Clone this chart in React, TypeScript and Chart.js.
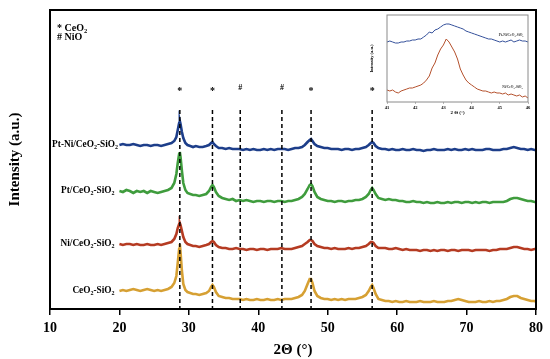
import React, { useEffect, useRef } from "react";
import { Chart, registerables } from "chart.js";
Chart.register(...registerables);

// ---------- main pattern data ----------
const twoTheta = [
  20, 20.5, 21, 21.5, 22, 22.5, 23, 23.5, 24, 24.5, 25, 25.5, 26, 26.5, 27, 27.5,
  27.9, 28.2, 28.4, 28.6, 28.7, 28.8, 29.0, 29.2, 29.5, 29.8,
  30.2, 30.6, 31, 31.5, 32, 32.5,
  32.9, 33.2, 33.4, 33.6, 33.9, 34.3,
  34.8, 35.3, 35.8, 36.3, 36.8, 37.3, 37.8, 38.3, 38.8, 39.3, 39.8, 40.3, 40.8, 41.3, 41.8, 42.3, 42.8, 43.3, 43.8, 44.3, 44.8, 45.3, 45.8, 46.3,
  46.7, 47.1, 47.4, 47.6, 47.8, 48.1, 48.5,
  49, 49.5, 50, 50.5, 51, 51.5, 52, 52.5, 53, 53.5, 54, 54.5, 55, 55.5,
  55.9, 56.2, 56.4, 56.6, 56.9, 57.3,
  57.8, 58.3, 58.8, 59.3, 59.8, 60.3, 60.8, 61.3, 61.8, 62.3, 62.8, 63.3, 63.8, 64.3, 64.8, 65.3, 65.8, 66.3, 66.8, 67.3,
  67.8, 68.3, 68.8, 69.3, 69.8, 70.3, 70.8, 71.3, 71.8, 72.3, 72.8, 73.3, 73.8, 74.3, 74.8, 75.3, 75.8, 76.3, 76.8, 77.3,
  77.8, 78.3, 78.8, 79.3, 79.8, 80,
];

const ptNiCeSi = [
  164, 165, 164, 164, 165, 164, 163, 164, 164, 163, 164, 164, 163, 164, 165, 166,
  168, 172, 179, 186, 188, 185, 177, 171, 166, 164,
  163, 162, 163, 162, 162, 163,
  164, 166, 167, 165, 163, 161,
  161, 160, 161, 160, 160, 160, 159, 160, 159, 160, 159, 159, 160, 159, 160, 159, 160, 160, 160, 159, 160, 161, 161, 162,
  164, 167, 169, 170, 168, 165, 163,
  162, 161, 161, 160, 160, 160, 159, 160, 160, 159, 160, 160, 161, 162,
  164, 166, 167, 166, 163, 161,
  160, 160, 159, 160, 159, 159, 160, 159, 159, 160, 159, 159, 158, 159, 159, 160, 159, 159, 159, 160,
  159, 160, 159, 159, 160, 159, 160, 159, 159, 159, 160, 160, 159, 159, 159, 160, 160, 161, 162, 161,
  160, 160, 159, 160, 159, 159,
];

const ptCeSi = [
  118, 117, 119, 118, 116, 118, 117, 118, 116, 118, 117, 116, 117, 118, 119, 121,
  126, 135, 146, 155, 157, 152, 138, 126, 119, 116,
  115, 114, 114, 113, 114, 115,
  118, 122, 124, 122, 117, 113,
  111, 110, 109, 110, 108, 109, 108, 109, 108, 107, 108, 108, 107, 108, 108, 107, 108, 108, 107, 108, 108, 109, 110, 112,
  115, 120, 124, 125, 123, 117, 112,
  110, 109, 108, 108, 107, 108, 108, 107, 108, 108, 109, 109, 110, 112,
  115, 119, 121, 119, 115, 111,
  110, 109, 110, 109, 109, 108, 108, 107, 107, 108, 107, 107, 106, 107, 106, 106, 107, 106, 106, 107,
  106, 107, 107, 106, 107, 107, 106, 107, 106, 107, 107, 106, 107, 107, 107, 107, 108, 110, 111, 111,
  110, 109, 108, 108, 107, 107,
];

const niCeSi = [
  65, 64, 65, 65, 64, 65, 64, 64, 65, 64, 64, 65, 64, 65, 66, 67,
  70, 75, 81, 85, 86, 84, 78, 72, 67, 65,
  64, 63, 63, 62, 63, 64,
  65, 67, 68, 67, 64, 62,
  61, 61, 60, 60, 61, 60, 60, 59, 60, 60, 59, 60, 60, 59, 60, 60, 60, 61, 60, 60, 60, 61, 62, 63,
  65, 67, 69, 69, 68, 65, 63,
  62, 61, 61, 60, 61, 60, 60, 60, 61, 60, 61, 61, 62, 63,
  65, 67, 67, 66, 63, 61,
  61, 61, 60, 60, 61, 60, 59, 60, 59, 59, 59, 58, 59, 59, 58, 59, 58, 59, 59, 58,
  59, 59, 58, 59, 59, 59, 58, 59, 59, 59, 59, 58, 59, 59, 60, 60, 60, 61, 62, 62,
  61, 60, 60, 59, 60, 60,
];

const ceSi = [
  18, 19, 18, 19, 20, 19, 18, 19, 20, 19, 18, 19, 18, 19, 20, 22,
  26, 33, 46, 60, 65, 57, 38, 25, 19, 17,
  16, 15, 15, 14, 15, 16,
  18, 22, 24, 22, 17, 13,
  12, 11, 11, 10, 10, 10, 9, 10, 9, 9, 10, 9, 9, 10, 9, 9, 10, 9, 10, 10, 10, 11, 12, 14,
  18, 25, 30, 30, 26, 18, 13,
  11, 10, 10, 9, 10, 9, 10, 9, 10, 10, 10, 11, 12, 14,
  18, 22, 24, 21, 15, 10,
  9, 8, 8, 7, 8, 7, 7, 8, 7, 7, 7, 8, 7, 7, 7, 8, 7, 7, 7, 8,
  8, 9, 10, 9, 8, 7, 7, 7, 8, 7, 7, 8, 7, 8, 8, 9, 10, 12, 13, 13,
  11, 10, 9, 8, 8, 7,
];

const seriesNames = ["Pt-Ni/CeO2-SiO2", "Pt/CeO2-SiO2", "Ni/CeO2-SiO2", "CeO2-SiO2"];
const seriesValues = [ptNiCeSi, ptCeSi, niCeSi, ceSi];
const seriesColors = ["#1d3e8a", "#3f9c3d", "#b53b22", "#d6a033"];

const ceo2Peaks = [28.7, 33.4, 47.6, 56.4];
const nioPeaks = [37.4, 43.4];
const legendLines = ["* CeO2", "# NiO"];
const xLabel = "2Θ (°)";
const yLabel = "Intensity (a.u.)";

// ---------- inset data ----------
const insetTheta = [
  41.0, 41.1, 41.2, 41.3, 41.4, 41.5, 41.6, 41.7, 41.8, 41.9,
  42.0, 42.1, 42.2, 42.3, 42.4, 42.5, 42.6, 42.7, 42.8, 42.9,
  43.0, 43.1, 43.2, 43.3, 43.4, 43.5, 43.6, 43.7, 43.8, 43.9,
  44.0, 44.1, 44.2, 44.3, 44.4, 44.5, 44.6, 44.7, 44.8, 44.9,
  45.0, 45.1, 45.2, 45.3, 45.4, 45.5, 45.6, 45.7, 45.8, 45.9,
  46.0,
];
const insetPtNi = [
  60, 61, 60, 59, 59, 60, 60, 61, 61, 62,
  62, 63, 63, 65, 67, 70, 69, 72, 73, 75,
  77, 78, 78, 77, 76, 75, 74, 73, 71, 70,
  69, 68, 67, 66, 65, 64, 63, 63, 62, 61,
  60, 61, 60, 61, 62, 60, 61, 62, 61, 61,
  60,
];
const insetNi = [
  12, 11, 12, 10, 9, 11, 12, 13, 14, 14,
  15, 16, 17, 19, 22, 26, 34, 39, 47, 53,
  57, 63, 60, 55, 50, 43, 33, 27, 22, 19,
  17, 15, 13, 12, 11, 11, 10, 9, 10, 9,
  9, 8, 9, 7, 8, 7, 6, 7, 5, 6,
  4,
];
const insetNames = ["Pt-Ni/CeO2-SiO2", "Ni/CeO2-SiO2"];
const insetColors = ["#34509a", "#b4502c"];

const SERIF = '"Liberation Serif", "Times New Roman", serif';

function drawRich(ctx: CanvasRenderingContext2D, text: string, x: number, y: number, size: number, align: "left" | "right" | "center") {
  const parts = text.match(/\d+|\D+/g) || [];
  const subSize = size * 0.65;
  let w = 0;
  const measured = parts.map((p) => {
    const sub = /^\d+$/.test(p);
    ctx.font = `bold ${sub ? subSize : size}px ${SERIF}`;
    const pw = ctx.measureText(p).width;
    w += pw;
    return { p, sub, pw };
  });
  let cx = align === "right" ? x - w : align === "center" ? x - w / 2 : x;
  ctx.textAlign = "left";
  ctx.textBaseline = "middle";
  for (const m of measured) {
    ctx.font = `bold ${m.sub ? subSize : size}px ${SERIF}`;
    ctx.fillText(m.p, cx, m.sub ? y + size * 0.3 : y);
    cx += m.pw;
  }
}

const mainDecor = {
  id: "mainDecor",
  afterDatasetsDraw(chart: any) {
    const { ctx, chartArea, scales } = chart;
    const x = scales.x;
    const y = scales.y;
    ctx.save();
    // dashed reference lines
    ctx.strokeStyle = "#000";
    ctx.lineWidth = 1.5;
    ctx.setLineDash([4, 3]);
    [...ceo2Peaks, ...nioPeaks].forEach((p) => {
      const px = x.getPixelForValue(p);
      ctx.beginPath();
      ctx.moveTo(px, y.getPixelForValue(199));
      ctx.lineTo(px, chartArea.bottom);
      ctx.stroke();
    });
    ctx.setLineDash([]);
    ctx.fillStyle = "#000";
    ctx.textAlign = "center";
    ctx.textBaseline = "middle";
    ctx.font = `bold 10px ${SERIF}`;
    ceo2Peaks.forEach((p) => ctx.fillText("*", x.getPixelForValue(p), y.getPixelForValue(221) + 3));
    ctx.font = `bold 8px ${SERIF}`;
    nioPeaks.forEach((p) => ctx.fillText("#", x.getPixelForValue(p), y.getPixelForValue(221)));
    // legend
    legendLines.forEach((t, i) => drawRich(ctx, t, chartArea.left + 7, chartArea.top + 18 + i * 9.5, 10, "left"));
    // series labels
    seriesNames.forEach((n, i) => {
      ctx.fillStyle = "#000";
      drawRich(ctx, n, x.getPixelForValue(i === 0 ? 19.8 : 19.3), y.getPixelForValue(seriesValues[i][0]), 9.3, "right");
    });
    // frame
    ctx.lineWidth = 2;
    ctx.strokeStyle = "#000";
    ctx.strokeRect(chartArea.left, chartArea.top, chartArea.right - chartArea.left, chartArea.bottom - chartArea.top);
    ctx.restore();
  },
};

const insetDecor = {
  id: "insetDecor",
  afterDatasetsDraw(chart: any) {
    const { ctx, chartArea, scales } = chart;
    const x = scales.x;
    const y = scales.y;
    ctx.save();
    ctx.fillStyle = "#333";
    drawRich(ctx, insetNames[0], x.getPixelForValue(45.4), y.getPixelForValue(67), 3.5, "center");
    drawRich(ctx, insetNames[1], x.getPixelForValue(45.45), y.getPixelForValue(15), 3.5, "center");
    ctx.lineWidth = 1;
    ctx.strokeStyle = "#8a8a8a";
    ctx.strokeRect(chartArea.left, chartArea.top, chartArea.right - chartArea.left, chartArea.bottom - chartArea.top);
    ctx.restore();
  },
};

export default function App() {
  const mainRef = useRef<HTMLCanvasElement>(null);
  const insetRef = useRef<HTMLCanvasElement>(null);

  useEffect(() => {
    const font = (size: number) => ({ family: SERIF, size, weight: "bold" as const });
    const main = new Chart(mainRef.current!, {
      type: "line",
      data: {
        datasets: seriesValues.map((vals, i) => ({
          label: seriesNames[i],
          data: twoTheta.map((t, j) => ({ x: t, y: vals[j] })),
          borderColor: seriesColors[i],
          borderWidth: 2.6,
          pointRadius: 0,
          tension: 0,
          fill: false,
        })),
      },
      options: {
        responsive: false,
        animation: false,
        devicePixelRatio: 1,
        layout: { padding: { left: 0, top: 10, right: 14, bottom: 0 } },
        plugins: { legend: { display: false }, tooltip: { enabled: false } },
        scales: {
          x: {
            type: "linear",
            min: 10,
            max: 80,
            ticks: { stepSize: 10, font: font(14), color: "#000", padding: 5, maxRotation: 0 },
            grid: { display: true, drawOnChartArea: false, drawTicks: true, tickLength: 6, color: "#000", lineWidth: 1.5 },
            border: { display: false },
            title: { display: true, text: xLabel, font: font(15), color: "#000", padding: { top: 0, bottom: 0 } },
            afterFit: (s: any) => { s.height = 50; },
          },
          y: {
            min: 0,
            max: 299,
            ticks: { display: false },
            grid: { display: false },
            border: { display: false },
            title: { display: true, text: yLabel, font: font(15), color: "#000", padding: { top: 6, bottom: 0 } },
            afterFit: (s: any) => { s.width = 50; },
          },
        },
      },
      plugins: [mainDecor],
    });

    const inset = new Chart(insetRef.current!, {
      type: "line",
      data: {
        datasets: [insetPtNi, insetNi].map((vals, i) => ({
          label: insetNames[i],
          data: insetTheta.map((t, j) => ({ x: t, y: vals[j] })),
          borderColor: insetColors[i],
          borderWidth: 1,
          pointRadius: 0,
          tension: 0,
          fill: false,
        })),
      },
      options: {
        responsive: false,
        animation: false,
        devicePixelRatio: 1,
        layout: { padding: { left: 0, top: 3, right: 9, bottom: 0 } },
        plugins: { legend: { display: false }, tooltip: { enabled: false } },
        scales: {
          x: {
            type: "linear",
            min: 41,
            max: 46,
            ticks: { stepSize: 1, font: font(4.5), color: "#000", padding: 1, maxRotation: 0 },
            grid: { display: true, drawOnChartArea: false, drawTicks: true, tickLength: 2, color: "#888", lineWidth: 0.6 },
            border: { display: false },
            title: { display: true, text: "2 Θ (°)", font: font(5), color: "#000", padding: { top: 0, bottom: 6 } },
            afterFit: (s: any) => { s.height = 20; },
          },
          y: {
            min: 0,
            max: 87,
            ticks: { display: false },
            grid: { display: false },
            border: { display: false },
            title: { display: true, text: yLabel, font: font(4.5), color: "#000", padding: { top: 4, bottom: 0 } },
            afterFit: (s: any) => { s.width = 22; },
          },
        },
      },
      plugins: [insetDecor],
    });

    return () => {
      main.destroy();
      inset.destroy();
    };
  }, []);

  return (
    <div style={{ position: "fixed", left: 0, top: 0, width: 550, height: 359, background: "#fff" }}>
      <canvas ref={mainRef} width={550} height={359} style={{ position: "absolute", left: 0, top: 0, width: 550, height: 359 }} />
      <canvas ref={insetRef} width={172} height={110} style={{ position: "absolute", left: 365, top: 12, width: 172, height: 110 }} />
    </div>
  );
}
